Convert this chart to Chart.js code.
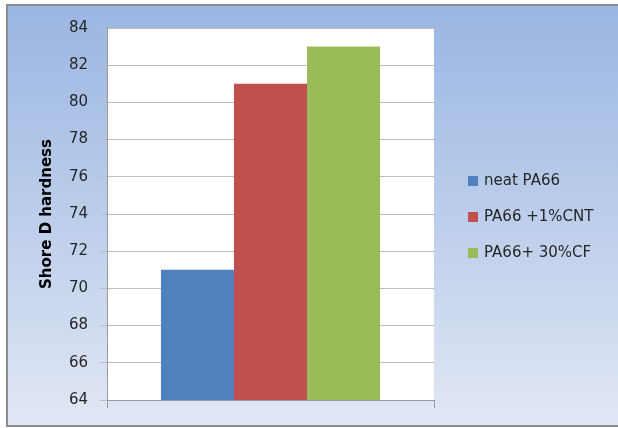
<!DOCTYPE html>
<html>
<head>
<meta charset="utf-8">
<script src="https://cdn.jsdelivr.net/npm/chart.js@4/dist/chart.umd.min.js"></script>
<style>
  html, body { margin: 0; padding: 0; background: #ffffff; }
  body { width: 618px; height: 428px; position: relative; overflow: hidden; }
  .frame {
    position: absolute; left: 6px; top: 4px; width: 640px; height: 419px;
    border: 2px solid #8c8c8c;
    background: linear-gradient(to bottom, #9bb6e2 0%, #b8cbea 45%, #e1e7f4 100%);
  }
  #hardness { position: absolute; left: 0; top: 0; }
</style>
</head>
<body>
<div class="frame"></div>
<canvas id="hardness" width="618" height="428"></canvas>
<script>
'use strict';

// Shore D hardness per material
const CATEGORIES = [''];
const SERIES     = ['neat PA66', 'PA66 +1%CNT', 'PA66+ 30%CF'];
const HARDNESS   = [71, 81, 83];
const COLORS     = ['#4f81bd', '#c0504d', '#9bbb59'];
const Y_MIN = 64, Y_MAX = 84, Y_STEP = 2;

const FONT = "'DejaVu Sans', sans-serif";

/* white plot area behind the grid */
const plotFill = {
  id: 'plotFill',
  beforeDraw(chart) {
    const { ctx, chartArea: a } = chart;
    ctx.save();
    ctx.fillStyle = '#ffffff';
    ctx.fillRect(a.left, a.top, a.right - a.left, a.bottom - a.top);
    ctx.restore();
  },
};

/* legend drawn at the right of the plot, one row per series */
const sideLegend = {
  id: 'sideLegend',
  afterDraw(chart) {
    const ctx = chart.ctx;
    const rows = [181, 217, 253];
    ctx.save();
    ctx.font = '15px ' + FONT;
    ctx.textBaseline = 'middle';
    ctx.textAlign = 'left';
    chart.data.datasets.forEach((ds, i) => {
      ctx.fillStyle = ds.backgroundColor;
      ctx.fillRect(468, rows[i] - 5, 10, 10);
      ctx.fillStyle = '#262626';
      ctx.fillText(ds.label, 484, rows[i]);
    });
    ctx.restore();
  },
};

new Chart(document.getElementById('hardness'), {
  type: 'bar',
  data: {
    labels: CATEGORIES,
    datasets: SERIES.map((name, i) => ({
      label: name,
      data: [HARDNESS[i]],
      backgroundColor: COLORS[i],
      borderWidth: 0,
      barPercentage: 1,
      categoryPercentage: 0.67,
    })),
  },
  options: {
    responsive: false,
    animation: false,
    layout: { padding: { top: 28, right: 184, bottom: 0, left: 0 } },
    plugins: {
      legend : { display: false },
      tooltip: { enabled: false },
    },
    scales: {
      x: {
        grid: {
          offset: true,
          drawOnChartArea: false,
          tickLength: 8,
          color: '#9a9a9a',
        },
        border: { color: '#9a9a9a' },
        ticks: { display: false },
        afterFit: (s) => { s.height = 28; },
      },
      y: {
        min: Y_MIN,
        max: Y_MAX,
        grid: { color: '#bdbdbd', tickLength: 7 },
        border: { color: '#9a9a9a' },
        ticks: {
          stepSize: Y_STEP,
          padding: 12,
          color: '#262626',
          font: { family: FONT, size: 15 },
        },
        title: {
          display: true,
          text: 'Shore D hardness',
          color: '#000000',
          font: { family: FONT, size: 15, weight: 'bold' },
          padding: { top: 38, bottom: 0 },
        },
        afterFit: (s) => { s.width = 107; },
      },
    },
  },
  plugins: [plotFill, sideLegend],
});
</script>
</body>
</html>
